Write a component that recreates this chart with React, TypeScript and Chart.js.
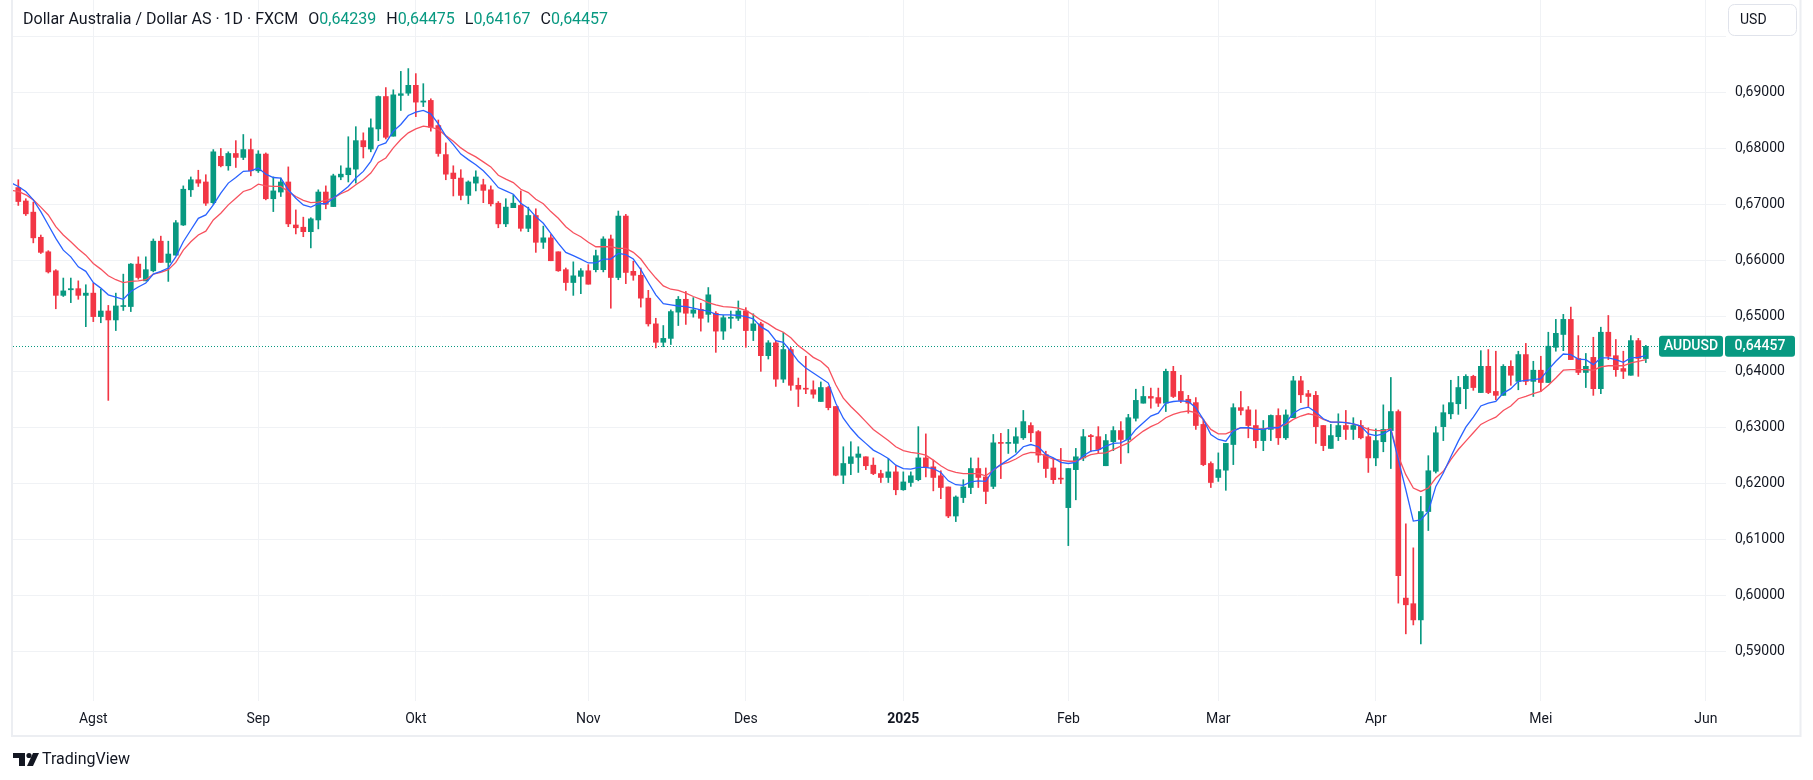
import React, { useEffect, useRef } from 'react';
import { Chart, registerables } from 'chart.js';

Chart.register(...registerables);

// ---- Data (AUD/USD daily, bar index 1 = 18 Jul 2024) ----
const opens = [
  0.6730, 0.6706, 0.6686, 0.6641, 0.6615, 0.6581, 0.6537, 0.6547, 0.6549, 0.6537,
  0.6541, 0.6499, 0.6509, 0.6493, 0.6517, 0.6517, 0.6593, 0.6563, 0.6581, 0.6634,
  0.6596, 0.6609, 0.6663, 0.6726, 0.6744, 0.6740, 0.6703, 0.6786, 0.6769, 0.6791,
  0.6784, 0.6798, 0.6760, 0.6790, 0.6710, 0.6722, 0.6740, 0.6663, 0.6659, 0.6651,
  0.6672, 0.6722, 0.6696, 0.6749, 0.6753, 0.6763, 0.6814, 0.6799, 0.6835, 0.6893,
  0.6822, 0.6895, 0.6899, 0.6913, 0.6883, 0.6886, 0.6841, 0.6789, 0.6756, 0.6747,
  0.6716, 0.6738, 0.6735, 0.6726, 0.6702, 0.6665, 0.6694, 0.6698, 0.6657, 0.6680,
  0.6632, 0.6640, 0.6615, 0.6583, 0.6560, 0.6571, 0.6581, 0.6583, 0.6583, 0.6638,
  0.6569, 0.6679, 0.6580, 0.6573, 0.6532, 0.6486, 0.6453, 0.6460, 0.6507, 0.6530,
  0.6505, 0.6512, 0.6503, 0.6505, 0.6473, 0.6496, 0.6496, 0.6509, 0.6474, 0.6486,
  0.6429, 0.6452, 0.6387, 0.6440, 0.6376, 0.6370, 0.6368, 0.6347, 0.6372, 0.6338,
  0.6215, 0.6236, 0.6247, 0.6248, 0.6233, 0.6218, 0.6211, 0.6221, 0.6189, 0.6202,
  0.6207, 0.6246, 0.6230, 0.6214, 0.6194, 0.6142, 0.6175, 0.6193, 0.6227, 0.6212,
  0.6195, 0.6273, 0.6272, 0.6272, 0.6282, 0.6304, 0.6293, 0.6252, 0.6228, 0.6209,
  0.6157, 0.6225, 0.6246, 0.6286, 0.6284, 0.6232, 0.6275, 0.6295, 0.6279, 0.6317,
  0.6344, 0.6356, 0.6354, 0.6344, 0.6401, 0.6365, 0.6351, 0.6345, 0.6306, 0.6236,
  0.6211, 0.6224, 0.6270, 0.6336, 0.6332, 0.6304, 0.6277, 0.6297, 0.6322, 0.6282,
  0.6318, 0.6384, 0.6361, 0.6358, 0.6304, 0.6263, 0.6284, 0.6304, 0.6297, 0.6304,
  0.6284, 0.6246, 0.6275, 0.6295, 0.6329, 0.5995, 0.5985, 0.5956, 0.6150, 0.6222,
  0.6302, 0.6325, 0.6343, 0.6370, 0.6392, 0.6363, 0.6410, 0.6365, 0.6358, 0.6410,
  0.6383, 0.6431, 0.6383, 0.6403, 0.6381, 0.6444, 0.6467, 0.6494, 0.6424, 0.6399,
  0.6426, 0.6370, 0.6471, 0.6429, 0.6406, 0.6394, 0.6456, 0.64239,
];
const highs = [
  0.6744, 0.6710, 0.6704, 0.6645, 0.6617, 0.6583, 0.6568, 0.6568, 0.6563, 0.6556,
  0.6559, 0.6548, 0.6519, 0.6541, 0.6575, 0.6594, 0.6606, 0.6606, 0.6638, 0.6643,
  0.6634, 0.6671, 0.6733, 0.6749, 0.6761, 0.6753, 0.6798, 0.6800, 0.6794, 0.6814,
  0.6825, 0.6817, 0.6796, 0.6792, 0.6749, 0.6747, 0.6767, 0.6690, 0.6677, 0.6676,
  0.6726, 0.6733, 0.6754, 0.6769, 0.6821, 0.6839, 0.6828, 0.6853, 0.6894, 0.6909,
  0.6905, 0.6938, 0.6943, 0.6934, 0.6916, 0.6889, 0.6851, 0.6810, 0.6769, 0.6762,
  0.6742, 0.6760, 0.6745, 0.6733, 0.6705, 0.6710, 0.6717, 0.6724, 0.6695, 0.6692,
  0.6661, 0.6646, 0.6615, 0.6586, 0.6597, 0.6585, 0.6592, 0.6618, 0.6642, 0.6645,
  0.6688, 0.6682, 0.6598, 0.6586, 0.6546, 0.6496, 0.6483, 0.6511, 0.6535, 0.6544,
  0.6533, 0.6523, 0.6551, 0.6508, 0.6501, 0.6509, 0.6527, 0.6515, 0.6504, 0.6489,
  0.6456, 0.6456, 0.6471, 0.6444, 0.6389, 0.6428, 0.6384, 0.6382, 0.6374, 0.6338,
  0.6266, 0.6275, 0.6266, 0.6248, 0.6246, 0.6224, 0.6245, 0.6232, 0.6221, 0.6221,
  0.6302, 0.6289, 0.6242, 0.6223, 0.6194, 0.6178, 0.6207, 0.6246, 0.6246, 0.6228,
  0.6288, 0.6290, 0.6297, 0.6300, 0.6331, 0.6309, 0.6295, 0.6258, 0.6245, 0.6263,
  0.6227, 0.6263, 0.6297, 0.6288, 0.6302, 0.6288, 0.6302, 0.6311, 0.6324, 0.6369,
  0.6374, 0.6371, 0.6371, 0.6405, 0.6410, 0.6394, 0.6358, 0.6354, 0.6315, 0.6239,
  0.6255, 0.6272, 0.6343, 0.6365, 0.6338, 0.6332, 0.6313, 0.6323, 0.6334, 0.6332,
  0.6392, 0.6392, 0.6367, 0.6365, 0.6304, 0.6306, 0.6325, 0.6331, 0.6318, 0.6313,
  0.6300, 0.6298, 0.6341, 0.6390, 0.6332, 0.6128, 0.6085, 0.6177, 0.6250, 0.6302,
  0.6341, 0.6385, 0.6392, 0.6395, 0.6394, 0.6438, 0.6440, 0.6437, 0.6413, 0.6420,
  0.6437, 0.6451, 0.6419, 0.6428, 0.6471, 0.6494, 0.6503, 0.6516, 0.6465, 0.6433,
  0.6462, 0.6480, 0.6501, 0.6458, 0.6437, 0.6465, 0.6460, 0.64475,
];
const lows = [
  0.6698, 0.6680, 0.6631, 0.6612, 0.6577, 0.6513, 0.6535, 0.6524, 0.6530, 0.6481,
  0.6490, 0.6488, 0.6349, 0.6474, 0.6510, 0.6508, 0.6566, 0.6563, 0.6579, 0.6596,
  0.6562, 0.6609, 0.6662, 0.6714, 0.6732, 0.6698, 0.6700, 0.6767, 0.6761, 0.6766,
  0.6780, 0.6751, 0.6757, 0.6708, 0.6687, 0.6714, 0.6660, 0.6647, 0.6642, 0.6622,
  0.6656, 0.6692, 0.6696, 0.6744, 0.6740, 0.6738, 0.6783, 0.6794, 0.6814, 0.6817,
  0.6822, 0.6868, 0.6895, 0.6857, 0.6875, 0.6831, 0.6786, 0.6744, 0.6715, 0.6708,
  0.6701, 0.6724, 0.6703, 0.6697, 0.6658, 0.6660, 0.6694, 0.6652, 0.6651, 0.6614,
  0.6621, 0.6599, 0.6580, 0.6546, 0.6537, 0.6540, 0.6557, 0.6579, 0.6579, 0.6514,
  0.6565, 0.6558, 0.6564, 0.6516, 0.6482, 0.6443, 0.6445, 0.6449, 0.6483, 0.6485,
  0.6498, 0.6473, 0.6489, 0.6435, 0.6458, 0.6478, 0.6492, 0.6444, 0.6456, 0.6401,
  0.6423, 0.6374, 0.6381, 0.6367, 0.6338, 0.6361, 0.6353, 0.6347, 0.6332, 0.6214,
  0.6200, 0.6216, 0.6220, 0.6225, 0.6216, 0.6202, 0.6202, 0.6180, 0.6188, 0.6195,
  0.6205, 0.6212, 0.6187, 0.6173, 0.6139, 0.6132, 0.6166, 0.6182, 0.6193, 0.6164,
  0.6191, 0.6209, 0.6254, 0.6256, 0.6279, 0.6275, 0.6238, 0.6211, 0.6200, 0.6200,
  0.6089, 0.6171, 0.6241, 0.6257, 0.6254, 0.6232, 0.6259, 0.6236, 0.6255, 0.6312,
  0.6344, 0.6335, 0.6338, 0.6329, 0.6354, 0.6345, 0.6326, 0.6297, 0.6232, 0.6193,
  0.6204, 0.6188, 0.6234, 0.6323, 0.6282, 0.6264, 0.6259, 0.6277, 0.6270, 0.6279,
  0.6318, 0.6345, 0.6338, 0.6272, 0.6259, 0.6263, 0.6277, 0.6279, 0.6279, 0.6280,
  0.6220, 0.6232, 0.6257, 0.6227, 0.5986, 0.5931, 0.5947, 0.5913, 0.6116, 0.6219,
  0.6277, 0.6316, 0.6324, 0.6334, 0.6367, 0.6363, 0.6361, 0.6350, 0.6358, 0.6376,
  0.6368, 0.6377, 0.6356, 0.6365, 0.6381, 0.6437, 0.6438, 0.6422, 0.6395, 0.6372,
  0.6358, 0.6361, 0.6422, 0.6392, 0.6388, 0.6394, 0.6392, 0.64167,
];
const closes = [
  0.6705, 0.6683, 0.6640, 0.6614, 0.6579, 0.6537, 0.6545, 0.6549, 0.6537, 0.6541,
  0.6499, 0.6509, 0.6493, 0.6518, 0.6518, 0.6593, 0.6569, 0.6583, 0.6634, 0.6596,
  0.6611, 0.6667, 0.6727, 0.6744, 0.6738, 0.6702, 0.6794, 0.6769, 0.6791, 0.6784,
  0.6798, 0.6760, 0.6790, 0.6710, 0.6724, 0.6740, 0.6665, 0.6658, 0.6651, 0.6674,
  0.6722, 0.6700, 0.6751, 0.6754, 0.6765, 0.6814, 0.6803, 0.6837, 0.6893, 0.6820,
  0.6896, 0.6898, 0.6913, 0.6883, 0.6885, 0.6838, 0.6791, 0.6754, 0.6746, 0.6716,
  0.6740, 0.6749, 0.6725, 0.6701, 0.6665, 0.6695, 0.6702, 0.6657, 0.6680, 0.6632,
  0.6640, 0.6599, 0.6581, 0.6560, 0.6572, 0.6581, 0.6557, 0.6608, 0.6638, 0.6569,
  0.6679, 0.6578, 0.6573, 0.6532, 0.6486, 0.6453, 0.6460, 0.6508, 0.6530, 0.6505,
  0.6511, 0.6496, 0.6538, 0.6473, 0.6497, 0.6497, 0.6509, 0.6474, 0.6486, 0.6429,
  0.6452, 0.6387, 0.6440, 0.6376, 0.6369, 0.6369, 0.6360, 0.6372, 0.6336, 0.6215,
  0.6236, 0.6248, 0.6253, 0.6232, 0.6218, 0.6211, 0.6221, 0.6189, 0.6203, 0.6214,
  0.6246, 0.6229, 0.6211, 0.6193, 0.6142, 0.6176, 0.6194, 0.6227, 0.6211, 0.6186,
  0.6273, 0.6272, 0.6273, 0.6284, 0.6311, 0.6291, 0.6251, 0.6227, 0.6207, 0.6208,
  0.6227, 0.6248, 0.6284, 0.6284, 0.6261, 0.6277, 0.6295, 0.6279, 0.6318, 0.6349,
  0.6356, 0.6353, 0.6344, 0.6401, 0.6356, 0.6349, 0.6344, 0.6304, 0.6234, 0.6202,
  0.6225, 0.6272, 0.6336, 0.6331, 0.6304, 0.6277, 0.6298, 0.6322, 0.6282, 0.6323,
  0.6384, 0.6359, 0.6356, 0.6302, 0.6268, 0.6286, 0.6304, 0.6297, 0.6304, 0.6282,
  0.6246, 0.6277, 0.6297, 0.6329, 0.6035, 0.5983, 0.5956, 0.6150, 0.6223, 0.6291,
  0.6327, 0.6345, 0.6372, 0.6392, 0.6372, 0.6410, 0.6363, 0.6358, 0.6410, 0.6394,
  0.6431, 0.6383, 0.6403, 0.6381, 0.6446, 0.6469, 0.6494, 0.6422, 0.6399, 0.6410,
  0.6370, 0.6471, 0.6428, 0.6404, 0.6401, 0.6456, 0.6424, 0.64457,
];
// moving averages, bar index 0 .. 218
const maFast = [
  0.6739, 0.6732, 0.6723, 0.6708, 0.6687, 0.6663, 0.6639, 0.6618, 0.6606, 0.6588,
  0.6580, 0.6560, 0.6550, 0.6538, 0.6534, 0.6530, 0.6544, 0.6552, 0.6559, 0.6575,
  0.6580, 0.6586, 0.6606, 0.6633, 0.6654, 0.6675, 0.6681, 0.6699, 0.6720, 0.6738,
  0.6748, 0.6759, 0.6760, 0.6765, 0.6754, 0.6748, 0.6747, 0.6726, 0.6711, 0.6699,
  0.6695, 0.6701, 0.6701, 0.6711, 0.6721, 0.6732, 0.6747, 0.6759, 0.6777, 0.6805,
  0.6810, 0.6831, 0.6843, 0.6859, 0.6865, 0.6868, 0.6862, 0.6844, 0.6822, 0.6807,
  0.6790, 0.6780, 0.6771, 0.6760, 0.6746, 0.6730, 0.6724, 0.6718, 0.6702, 0.6693,
  0.6678, 0.6666, 0.6648, 0.6630, 0.6614, 0.6608, 0.6602, 0.6595, 0.6595, 0.6602,
  0.6602, 0.6612, 0.6610, 0.6602, 0.6583, 0.6560, 0.6538, 0.6522, 0.6520, 0.6518,
  0.6517, 0.6514, 0.6511, 0.6509, 0.6503, 0.6502, 0.6502, 0.6501, 0.6499, 0.6495,
  0.6481, 0.6473, 0.6456, 0.6453, 0.6437, 0.6419, 0.6407, 0.6398, 0.6389, 0.6380,
  0.6344, 0.6317, 0.6299, 0.6284, 0.6272, 0.6260, 0.6253, 0.6245, 0.6233, 0.6227,
  0.6226, 0.6229, 0.6229, 0.6227, 0.6220, 0.6205, 0.6198, 0.6197, 0.6203, 0.6205,
  0.6204, 0.6225, 0.6234, 0.6243, 0.6252, 0.6266, 0.6270, 0.6266, 0.6252, 0.6246,
  0.6238, 0.6236, 0.6238, 0.6250, 0.6258, 0.6260, 0.6267, 0.6272, 0.6273, 0.6280,
  0.6297, 0.6309, 0.6321, 0.6326, 0.6344, 0.6347, 0.6348, 0.6347, 0.6336, 0.6315,
  0.6288, 0.6279, 0.6276, 0.6294, 0.6300, 0.6300, 0.6297, 0.6297, 0.6300, 0.6300,
  0.6309, 0.6326, 0.6334, 0.6337, 0.6328, 0.6316, 0.6310, 0.6310, 0.6309, 0.6307,
  0.6303, 0.6289, 0.6286, 0.6289, 0.6297, 0.6243, 0.6189, 0.6133, 0.6135, 0.6150,
  0.6195, 0.6219, 0.6248, 0.6276, 0.6301, 0.6319, 0.6339, 0.6344, 0.6347, 0.6362,
  0.6370, 0.6383, 0.6385, 0.6386, 0.6388, 0.6404, 0.6419, 0.6432, 0.6431, 0.6423,
  0.6422, 0.6413, 0.6425, 0.6425, 0.6422, 0.6417, 0.6425, 0.6426, 0.6429,
];
const maSlow = [
  0.6725, 0.6723, 0.6717, 0.6708, 0.6695, 0.6681, 0.6660, 0.6645, 0.6633, 0.6620,
  0.6609, 0.6594, 0.6584, 0.6572, 0.6565, 0.6560, 0.6562, 0.6563, 0.6565, 0.6575,
  0.6578, 0.6583, 0.6596, 0.6618, 0.6633, 0.6645, 0.6652, 0.6672, 0.6684, 0.6699,
  0.6711, 0.6723, 0.6727, 0.6736, 0.6733, 0.6732, 0.6732, 0.6723, 0.6714, 0.6707,
  0.6703, 0.6704, 0.6707, 0.6711, 0.6719, 0.6725, 0.6735, 0.6744, 0.6756, 0.6775,
  0.6783, 0.6801, 0.6816, 0.6828, 0.6835, 0.6840, 0.6838, 0.6834, 0.6823, 0.6813,
  0.6801, 0.6792, 0.6785, 0.6776, 0.6767, 0.6752, 0.6745, 0.6739, 0.6727, 0.6721,
  0.6709, 0.6701, 0.6687, 0.6675, 0.6660, 0.6649, 0.6642, 0.6632, 0.6624, 0.6624,
  0.6624, 0.6621, 0.6621, 0.6614, 0.6602, 0.6584, 0.6568, 0.6554, 0.6548, 0.6546,
  0.6541, 0.6535, 0.6530, 0.6524, 0.6520, 0.6517, 0.6516, 0.6514, 0.6510, 0.6502,
  0.6493, 0.6486, 0.6477, 0.6471, 0.6461, 0.6447, 0.6437, 0.6426, 0.6419, 0.6407,
  0.6377, 0.6353, 0.6338, 0.6325, 0.6311, 0.6297, 0.6287, 0.6277, 0.6266, 0.6259,
  0.6256, 0.6254, 0.6251, 0.6242, 0.6232, 0.6224, 0.6220, 0.6218, 0.6218, 0.6218,
  0.6214, 0.6224, 0.6234, 0.6238, 0.6244, 0.6252, 0.6256, 0.6255, 0.6249, 0.6244,
  0.6242, 0.6240, 0.6240, 0.6246, 0.6252, 0.6254, 0.6255, 0.6261, 0.6267, 0.6273,
  0.6284, 0.6294, 0.6302, 0.6308, 0.6318, 0.6324, 0.6328, 0.6330, 0.6327, 0.6315,
  0.6297, 0.6289, 0.6289, 0.6295, 0.6300, 0.6300, 0.6298, 0.6298, 0.6300, 0.6301,
  0.6306, 0.6315, 0.6321, 0.6325, 0.6322, 0.6315, 0.6310, 0.6310, 0.6309, 0.6307,
  0.6303, 0.6297, 0.6295, 0.6295, 0.6298, 0.6249, 0.6216, 0.6192, 0.6186, 0.6192,
  0.6210, 0.6222, 0.6243, 0.6261, 0.6276, 0.6291, 0.6306, 0.6313, 0.6319, 0.6331,
  0.6339, 0.6352, 0.6356, 0.6361, 0.6365, 0.6376, 0.6389, 0.6403, 0.6404, 0.6404,
  0.6404, 0.6403, 0.6409, 0.6411, 0.6411, 0.6411, 0.6416, 0.6419, 0.6422,
];
const monthTickIndex = [11, 33, 54, 77, 98, 119, 141, 161, 182, 204, 226];
const monthTickLabels = ['Agst', 'Sep', 'Okt', 'Nov', 'Des', '2025', 'Feb', 'Mar', 'Apr', 'Mei', 'Jun'];
const titleText = 'Dollar Australia / Dollar AS · 1D · FXCM';
const ohlcKeys = ['O', 'H', 'L', 'C'];
const ohlcValues = ['0,64239', '0,64475', '0,64167', '0,64457'];
const symbolName = 'AUDUSD';
const lastPrice = 0.64457;
const currencyLabel = 'USD';
const brandName = 'TradingView';

const UP = '#089981';
const DOWN = '#F23645';
const TEXT = '#131722';
const GRID = '#f0f2f5';
const FONT = 'Roboto, "Liberation Sans", Arial, sans-serif';

const fmt = (v: number) => v.toFixed(5).replace('.', ',');

function roundRect(ctx: CanvasRenderingContext2D, x: number, y: number, w: number, h: number, r: number) {
  ctx.beginPath();
  ctx.moveTo(x + r, y);
  ctx.lineTo(x + w - r, y);
  ctx.arcTo(x + w, y, x + w, y + r, r);
  ctx.lineTo(x + w, y + h - r);
  ctx.arcTo(x + w, y + h, x + w - r, y + h, r);
  ctx.lineTo(x + r, y + h);
  ctx.arcTo(x, y + h, x, y + h - r, r);
  ctx.lineTo(x, y + r);
  ctx.arcTo(x, y, x + r, y, r);
  ctx.closePath();
}

const decorPlugin = {
  id: 'tvDecor',
  beforeDraw(chart: any) {
    const ctx = chart.ctx as CanvasRenderingContext2D;
    ctx.save();
    ctx.fillStyle = '#ffffff';
    ctx.fillRect(0, 0, chart.width, chart.height);
    ctx.strokeStyle = '#eceef2';
    ctx.lineWidth = 2;
    ctx.beginPath();
    ctx.moveTo(12, 0);
    ctx.lineTo(12, 736);
    ctx.lineTo(1800.5, 736);
    ctx.lineTo(1800.5, 0);
    ctx.stroke();
    ctx.restore();
  },
  beforeDatasetsDraw(chart: any) {
    const ctx = chart.ctx as CanvasRenderingContext2D;
    const y = Math.round(chart.scales.y.getPixelForValue(lastPrice)) + 0.5;
    ctx.save();
    ctx.strokeStyle = UP;
    ctx.lineWidth = 1;
    ctx.setLineDash([1, 2]);
    ctx.beginPath();
    ctx.moveTo(chart.chartArea.left, y);
    ctx.lineTo(1659, y);
    ctx.stroke();
    ctx.restore();
  },
  afterDraw(chart: any) {
    const ctx = chart.ctx as CanvasRenderingContext2D;
    ctx.save();
    // header legend
    ctx.font = `16px ${FONT}`;
    ctx.textBaseline = 'middle';
    ctx.textAlign = 'left';
    let x = 23;
    const hy = 20;
    ctx.fillStyle = TEXT;
    ctx.fillText(titleText, x, hy);
    x += ctx.measureText(titleText).width + 10;
    ohlcKeys.forEach((k, i) => {
      ctx.fillStyle = TEXT;
      ctx.fillText(k, x, hy);
      x += ctx.measureText(k).width;
      ctx.fillStyle = UP;
      ctx.fillText(ohlcValues[i], x, hy);
      x += ctx.measureText(ohlcValues[i]).width + 10;
    });

    // last price labels
    const py = chart.scales.y.getPixelForValue(lastPrice);
    ctx.fillStyle = UP;
    roundRect(ctx, 1659, py - 10.5, 64, 21, 3);
    ctx.fill();
    roundRect(ctx, 1725, py - 10.5, 70, 21, 3);
    ctx.fill();
    ctx.fillStyle = '#ffffff';
    ctx.font = `500 14px ${FONT}`;
    ctx.textAlign = 'center';
    ctx.fillText(symbolName, 1691, py + 0.5);
    ctx.fillText(fmt(lastPrice), 1760, py + 0.5);

    // currency button
    ctx.fillStyle = '#ffffff';
    roundRect(ctx, 1728.5, 4.5, 68, 31, 6);
    ctx.fill();
    ctx.strokeStyle = '#e0e3eb';
    ctx.lineWidth = 1;
    ctx.stroke();
    ctx.fillStyle = TEXT;
    ctx.font = `14px ${FONT}`;
    ctx.textAlign = 'left';
    ctx.fillText(currencyLabel, 1740, 20);

    // brand logo
    ctx.fillStyle = TEXT;
    ctx.fillRect(13, 753, 12, 5);
    ctx.fillRect(19, 753, 6, 13);
    ctx.beginPath();
    ctx.arc(29, 755.5, 2.6, 0, Math.PI * 2);
    ctx.fill();
    ctx.beginPath();
    ctx.moveTo(33, 753);
    ctx.lineTo(39, 753);
    ctx.lineTo(33, 766);
    ctx.lineTo(27, 766);
    ctx.closePath();
    ctx.fill();
    ctx.font = `16px ${FONT}`;
    ctx.textBaseline = 'middle';
    ctx.fillText(brandName, 42, 760);
    ctx.restore();
  },
};

export default function App() {
  const ref = useRef<HTMLCanvasElement | null>(null);
  useEffect(() => {
    if (!ref.current) return;
    const idx = opens.map((_, i) => i + 1);
    const colorOf = (i: number) => (closes[i] >= opens[i] ? UP : DOWN);
    const chart = new Chart(ref.current, {
      type: 'bar',
      data: {
        datasets: [
          {
            type: 'line',
            data: maFast.map((v, i) => ({ x: i, y: v })),
            borderColor: '#2962FF',
            borderWidth: 1.3,
            pointRadius: 0,
            tension: 0,
            order: 0,
          } as any,
          {
            type: 'line',
            data: maSlow.map((v, i) => ({ x: i, y: v })),
            borderColor: '#F7525F',
            borderWidth: 1.3,
            pointRadius: 0,
            tension: 0,
            order: 0,
          } as any,
          {
            type: 'bar',
            data: idx.map((n, i) => ({ x: n, y: [opens[i], closes[i]] })),
            backgroundColor: (c: any) => colorOf(c.dataIndex),
            borderWidth: 0,
            barThickness: 5,
            minBarLength: 1,
            grouped: false,
            order: 1,
          } as any,
          {
            type: 'bar',
            data: idx.map((n, i) => ({ x: n, y: [lows[i], highs[i]] })),
            backgroundColor: (c: any) => colorOf(c.dataIndex),
            borderWidth: 0,
            barThickness: 1,
            grouped: false,
            order: 2,
          } as any,
        ],
      },
      options: {
        animation: false,
        responsive: false,
        devicePixelRatio: 1,
        layout: { padding: { left: 13, right: 13, top: 0, bottom: 44 } },
        plugins: { legend: { display: false }, tooltip: { enabled: false } },
        scales: {
          x: {
            type: 'linear',
            min: 0.293,
            max: 228.69,
            offset: false,
            border: { display: false },
            grid: { color: GRID, drawTicks: false, offset: false },
            afterBuildTicks: (scale: any) => {
              scale.ticks = monthTickIndex.map((v) => ({ value: v }));
            },
            afterFit: (scale: any) => {
              scale.height = 35;
              scale.paddingLeft = 0;
              scale.paddingRight = 0;
            },
            ticks: {
              autoSkip: false,
              maxRotation: 0,
              padding: 10,
              color: TEXT,
              font: (c: any) => ({
                family: FONT,
                size: 14,
                weight: c.tick && c.tick.value === 119 ? 'bold' : 'normal',
              }),
              callback: (v: any) => {
                const k = monthTickIndex.indexOf(Number(v));
                return k >= 0 ? monthTickLabels[k] : '';
              },
            },
          },
          y: {
            type: 'linear',
            position: 'right',
            min: 0.58108,
            max: 0.70658,
            border: { display: false },
            grid: { color: GRID, drawTicks: false },
            afterFit: (scale: any) => {
              scale.width = 74;
              scale.paddingTop = 0;
              scale.paddingBottom = 0;
            },
            ticks: {
              stepSize: 0.01,
              includeBounds: false,
              padding: 9,
              color: TEXT,
              font: { family: FONT, size: 14 },
              callback: (v: any) => (Number(v) > 0.695 ? '' : fmt(Number(v))),
            },
          },
        },
      } as any,
      plugins: [decorPlugin],
    });
    return () => chart.destroy();
  }, []);
  return (
    <div style={{ position: 'absolute', left: 0, top: 0, width: 1813, height: 780, background: '#fff' }}>
      <canvas ref={ref} width={1813} height={780} style={{ width: 1813, height: 780, display: 'block' }} />
    </div>
  );
}
